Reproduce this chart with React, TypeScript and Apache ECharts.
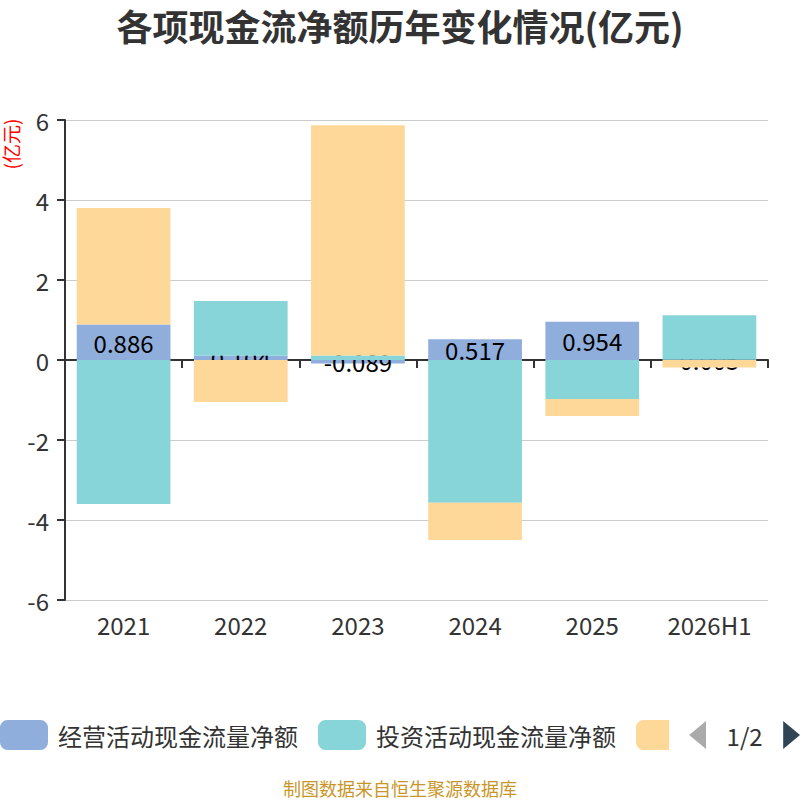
import { useEffect, useRef } from 'react';
import * as echarts from 'echarts';

// 年份
const years = ['2021', '2022', '2023', '2024', '2025', '2026H1'];

// 各项现金流净额（亿元）
const operatingFlow = [0.886, 0.104, -0.089, 0.517, 0.954, 0.005];
const investingFlow = [-3.6, 1.37, 0.11, -3.57, -0.975, 1.115];
const financingFlow = [2.914, -1.05, 5.76, -0.93, -0.425, -0.19];

const seriesNames = ['经营活动现金流量净额', '投资活动现金流量净额', '筹资活动现金流量净额'];
const colors = ['#8faedb', '#87d5d8', '#fed899'];

const font = '"Noto Sans CJK SC", "Noto Sans", sans-serif';

const App = () => {
  const chartRef = useRef<HTMLDivElement>(null);

  useEffect(() => {
    if (!chartRef.current) return;
    const chart = echarts.init(chartRef.current, undefined, { renderer: 'svg' });

    const option: echarts.EChartsOption = {
      animation: false,
      textStyle: { fontFamily: font },
      color: colors,
      title: {
        text: '各项现金流净额历年变化情况(亿元)',
        left: 'center',
        top: 2,
        textStyle: { fontSize: 36, fontWeight: 'bold', color: '#333', fontFamily: font }
      },
      grid: { left: 65, right: 32, top: 120, bottom: 200 },
      legend: {
        type: 'scroll',
        left: 0,
        width: 800,
        top: 720,
        padding: 0,
        itemWidth: 48,
        itemHeight: 30,
        itemGap: 20,
        icon: 'roundRect',
        textStyle: { fontSize: 24, color: '#333', padding: [0, 0, 0, 5] },
        pageButtonItemGap: 10,
        pageButtonGap: 20,
        pageIconSize: [17, 28],
        pageIconColor: '#2f4554',
        pageIconInactiveColor: '#aaa',
        pageTextStyle: { fontSize: 24, color: '#333' },
        data: seriesNames
      },
      xAxis: {
        type: 'category',
        data: years,
        axisLine: { onZero: true, lineStyle: { color: '#333', width: 2 } },
        axisTick: { show: true, length: 8, lineStyle: { color: '#333', width: 2 } },
        axisLabel: { fontSize: 24, color: '#333', margin: 12 }
      },
      yAxis: {
        type: 'value',
        min: -6,
        max: 6,
        interval: 2,
        axisLine: { show: true, lineStyle: { color: '#333', width: 2 } },
        axisTick: { show: true, length: 8, lineStyle: { color: '#333', width: 2 } },
        axisLabel: { fontSize: 24, color: '#333', margin: 16 },
        splitLine: { lineStyle: { color: '#ccc', width: 1 } }
      },
      series: [
        {
          name: seriesNames[0],
          type: 'bar',
          stack: 'total',
          barWidth: '80%',
          z: 2,
          data: operatingFlow,
          label: {
            show: true,
            position: 'inside',
            fontSize: 24,
            color: '#000'
          }
        },
        {
          name: seriesNames[1],
          type: 'bar',
          stack: 'total',
          barWidth: '80%',
          z: 3,
          data: investingFlow
        },
        {
          name: seriesNames[2],
          type: 'bar',
          stack: 'total',
          barWidth: '80%',
          z: 4,
          data: financingFlow
        }
      ],
      graphic: [
        {
          type: 'text',
          x: 10,
          y: 144,
          rotation: Math.PI / 2,
          style: {
            text: '(亿元)',
            fill: '#ff0000',
            font: `19px ${font}`,
            textAlign: 'center',
            textVerticalAlign: 'middle'
          }
        },
        {
          type: 'text',
          x: 400,
          y: 788,
          style: {
            text: '制图数据来自恒生聚源数据库',
            fill: '#c9962a',
            font: `18px ${font}`,
            textAlign: 'center',
            textVerticalAlign: 'middle'
          }
        }
      ]
    };

    chart.setOption(option);
    return () => chart.dispose();
  }, []);

  return (
    <div
      ref={chartRef}
      style={{ position: 'absolute', left: 0, top: 0, width: 800, height: 800 }}
    />
  );
};

export default App;
